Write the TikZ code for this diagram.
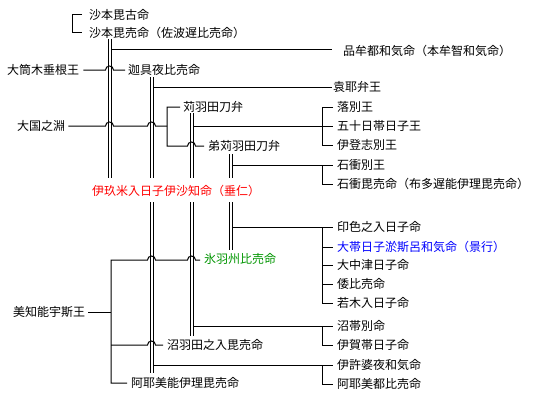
\documentclass[tikz,border=0pt]{standalone}
\usepackage{fontspec}
\setmainfont{Noto Sans CJK JP}
\definecolor{kgreen}{RGB}{0,150,0}
\definecolor{kred}{RGB}{255,0,0}
\definecolor{kblue}{RGB}{0,0,255}
\begin{document}
\begin{tikzpicture}[x=1pt,y=-1pt,
  nm/.style={anchor=west,inner sep=0pt,text height=10.5pt,text depth=1.5pt,font=\fontsize{12}{12}\selectfont},
  ln/.style={line width=1pt},
  marr/.style={line width=1pt,double=white,double distance=2pt},
  hop/.style={}]
\useasboundingbox (0,0) rectangle (543,404);
\fill[white] (0,0) rectangle (543,404);

% ---------- names ----------
\node[nm] (sk) at (89,15) {沙本毘古命};
\node[nm] (sb) at (89,33) {沙本毘売命（佐波遅比売命）};
\node[nm] (hm) at (343,51) {品牟都和気命（本牟智和気命）};
\node[nm] (ot) at (7,70) {大筒木垂根王};
\node[nm] (kg) at (128,70) {迦具夜比売命};
\node[nm] (ey) at (333,87) {袁耶弁王};
\node[nm] (kh) at (183,107) {苅羽田刀弁};
\node[nm] (ow) at (337,107) {落別王};
\node[nm] (ok) at (17,126) {大国之淵};
\node[nm] (it) at (337,126) {五十日帯日子王};
\node[nm] (okh) at (208,146) {弟苅羽田刀弁};
\node[nm] (is) at (337,145) {伊登志別王};
\node[nm] (iw) at (337,165) {石衝別王};
\node[nm] (ib) at (337,184) {石衝毘売命（布多遅能伊理毘売命）};
\node[nm,text=kred] (su) at (92,191) {伊玖米入日子伊沙知命（垂仁）};
\node[nm] (in) at (337,227) {印色之入日子命};
\node[nm,text=kblue] (kk) at (337,247) {大帯日子淤斯呂和気命（景行）};
\node[nm] (on) at (337,265) {大中津日子命};
\node[nm] (yh) at (337,284) {倭比売命};
\node[nm] (wk) at (337,303) {若木入日子命};
\node[nm,text=kgreen] (hh) at (204,259) {氷羽州比売命};
\node[nm] (mc) at (13,312) {美知能宇斯王};
\node[nm] (nt) at (337,326) {沼帯別命};
\node[nm] (nh) at (167,345) {沼羽田之入毘売命};
\node[nm] (ig) at (337,345) {伊賀帯日子命};
\node[nm] (iy) at (337,365) {伊許婆夜和気命};
\node[nm] (an) at (131,383) {阿耶美能伊理毘売命};
\node[nm] (am) at (337,384) {阿耶美都比売命};

% ---------- marriage double lines ----------
\coordinate (A1) at (109.5,39);  \coordinate (A2) at (109.5,178);
\coordinate (B1) at (151.5,77);  \coordinate (B2) at (151.5,178);
\coordinate (B3) at (151.5,202); \coordinate (B4) at (151.5,373);
\coordinate (C1) at (191.5,113); \coordinate (C2) at (191.5,178);
\coordinate (C3) at (191.5,202); \coordinate (C4) at (191.5,336);
\coordinate (D1) at (230.5,154); \coordinate (D2) at (230.5,178);
\coordinate (D3) at (230.5,202); \coordinate (D4) at (230.5,250);
\draw[marr] (A1) -- (A2);
\draw[marr] (B1) -- (B2);
\draw[marr] (B3) -- (B4);
\draw[marr] (C1) -- (C2);
\draw[marr] (C3) -- (C4);
\draw[marr] (D1) -- (D2);
\draw[marr] (D3) -- (D4);

% ---------- top-left bracket ----------
\draw[ln] ([xshift=-7pt]sk.west) -| ([xshift=-17pt]sb.west) -- ([xshift=-7pt]sb.west);

% ---------- children branches ----------
\draw[ln] (111,50) -- ([xshift=-11pt]hm.west |- 0,50);
\draw[ln] (153,87) -- ([xshift=-1pt]ey.west);
% 落別王 group
\draw[ln] (193,126) -- ([xshift=-4pt]it.west);
\draw[ln] ([xshift=-4pt]ow.west) -| ([xshift=-15pt]is.west) -- ([xshift=-4pt]is.west);
% 石衝別王 group
\draw[ln] (232,165) -- ([xshift=-4pt]iw.west);
\draw[ln] ([xshift=-15pt]iw.west) |- ([xshift=-4pt]ib.west);
% 印色之入日子命 group
\draw[ln] (232,227) -- ([xshift=-4pt]in.west);
\draw[ln] ([xshift=-15pt]in.west) |- ([xshift=-4pt]wk.west);
\draw[ln] ([xshift=-15pt]kk.west) -- ([xshift=-4pt]kk.west);
\draw[ln] ([xshift=-15pt]on.west) -- ([xshift=-4pt]on.west);
\draw[ln] ([xshift=-15pt]yh.west) -- ([xshift=-4pt]yh.west);
% 沼帯別命 group
\draw[ln] (193,326) -- ([xshift=-4pt]nt.west);
\draw[ln] ([xshift=-15pt]nt.west) |- ([xshift=-4pt]ig.west);
% 伊許婆夜和気命 group
\draw[ln] (153,365) -- ([xshift=-4pt]iy.west);
\draw[ln] ([xshift=-15pt]iy.west) |- ([xshift=-4pt]am.west);

% ---------- parents with hops ----------
\draw[ln] ([xshift=4pt]ot.east) -- (105.5,70) arc[start angle=180,end angle=0,radius=4pt]
  -- ([xshift=-3pt]kg.west);
\draw[ln] ([xshift=3pt]ok.east) -- (105.5,126) arc[start angle=180,end angle=0,radius=4pt]
  -- (147.5,126) arc[start angle=180,end angle=0,radius=4pt] -- (167,126);
\draw[ln] ([xshift=-3pt]kh.west) -| (167,146) -- (187.5,146)
  arc[start angle=180,end angle=0,radius=4pt] -- ([xshift=-4pt]okh.west);
\draw[ln] ([xshift=3pt]mc.east) -- (111,312);
\draw[ln] ([xshift=-4pt]hh.west |- 0,260) -- (195.5,260) arc[start angle=0,end angle=180,radius=4pt]
  -- (155.5,260) arc[start angle=0,end angle=180,radius=4pt] -- (111,260) |- ([xshift=-4pt]an.west);
\draw[ln] (111,345) -- (147.5,345) arc[start angle=180,end angle=0,radius=4pt]
  -- ([xshift=-4pt]nh.west);
\end{tikzpicture}
\end{document}
